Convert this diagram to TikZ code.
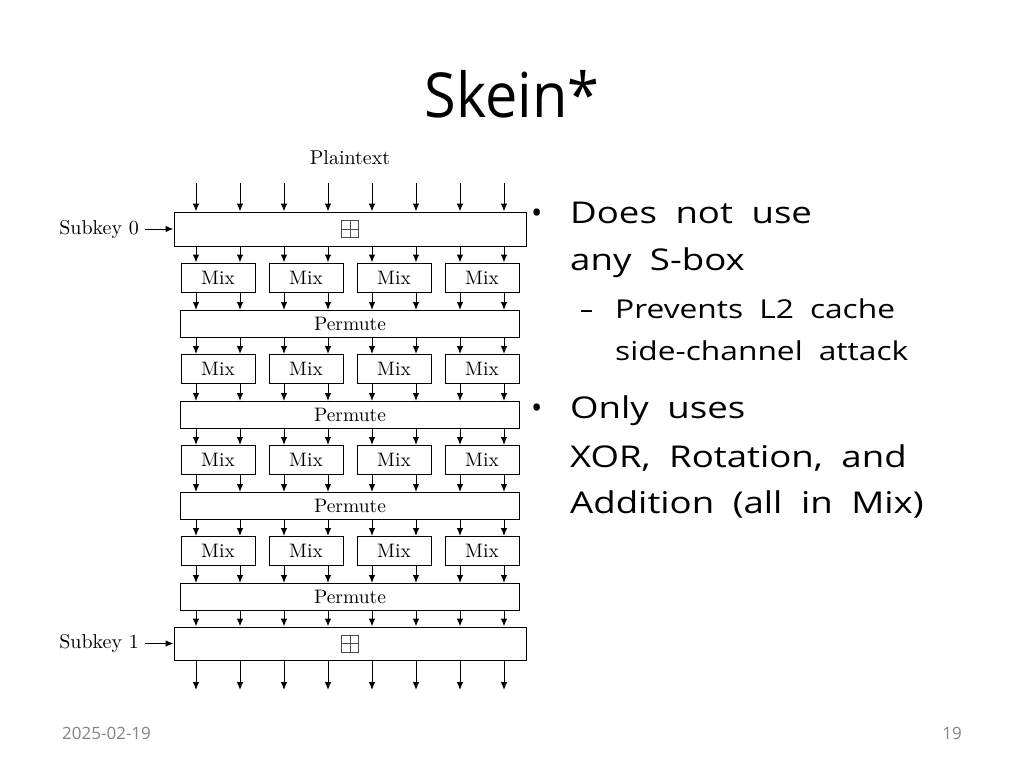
\documentclass[tikz,border=0pt]{standalone}
\usepackage{fontspec}
\newfontfamily\titlefont[FakeStretch=0.93]{Open Sans}
\newfontfamily\slidefont{Open Sans}
\newfontfamily\bulfont[FakeStretch=1.22,WordSpace=1.95]{Open Sans}
\newfontfamily\cmfont{lmroman10-regular.otf}
\usetikzlibrary{arrows.meta}
\begin{document}
\begin{tikzpicture}[x=1pt,y=-1pt,
  box/.style={draw,line width=1pt,inner sep=0pt,font=\cmfont\fontsize{19.5}{19.5}\selectfont},
  mixbox/.style={box,minimum width=74pt,minimum height=29pt},
  permbox/.style={box,minimum width=339pt,minimum height=27pt},
  keybox/.style={box,minimum width=352pt,minimum height=34pt},
  arr/.style={-{Latex[length=8pt,width=6.5pt]},line width=1pt},
  lbl/.style={font=\cmfont\fontsize{20}{20}\selectfont,inner sep=0pt},
  bplus/.style={draw=black!70,line width=1pt,minimum size=17pt,inner sep=0pt},
  bigtxt/.style={font=\bulfont\fontsize{30}{30}\selectfont,anchor=base west,inner sep=0pt},
  subtxt/.style={font=\bulfont\fontsize{26}{26}\selectfont,anchor=base west,inner sep=0pt},
  foot/.style={font=\slidefont\fontsize{17}{17}\selectfont,text=black!48,inner sep=0pt}
]
\useasboundingbox[fill=white] (0,0) rectangle (1024,768);

% title
\node[font=\titlefont\fontsize{62}{62}\selectfont,anchor=base,inner sep=0pt] (title) at (512,117) {Skein*};

% diagram
\node[lbl] (pt) at (350,158) {Plaintext};
\node[keybox] (k0) at (350,229) {};
\node[bplus] (bp0) at (k0.center) {};
\draw[draw=black!70,line width=1pt] (bp0.north) -- (bp0.south) (bp0.west) -- (bp0.east);
\node[keybox,minimum height=33pt] (k1) at (350,643.5) {};
\node[bplus] (bp1) at (k1.center) {};
\draw[draw=black!70,line width=1pt] (bp1.north) -- (bp1.south) (bp1.west) -- (bp1.east);

\node[lbl,anchor=east] (s0) at (139,229) {Subkey 0};
\node[lbl,anchor=east] (s1) at (139,643.5) {Subkey 1};
\draw[arr] ([xshift=6pt]s0.east) -- (k0.west);
\draw[arr] ([xshift=6pt]s1.east) -- (k1.west);

\foreach \r/\my/\py in {1/277.5/324,2/369/415,3/460/506,4/551/597}{
  \foreach \k/\mx in {1/218,2/306,3/394,4/482}
    \node[mixbox] (m\r\k) at (\mx,\my) {Mix};
  \node[permbox] (p\r) at (350,\py) {Permute};
}

\foreach \i in {1,...,8}{
  \coordinate (c\i) at ({196+44*(\i-1)},183);
  \coordinate (b\i) at ({196+44*(\i-1)},690);
}

\foreach \i/\k in {1/1,2/1,3/2,4/2,5/3,6/3,7/4,8/4}{
  \draw[arr] (c\i) -- (k0.north -| c\i);
  \draw[arr] (k0.south -| c\i) -- (m1\k.north -| c\i);
  \foreach \r in {1,2,3,4}
    \draw[arr] (m\r\k.south -| c\i) -- (p\r.north -| c\i);
  \foreach \r/\s in {1/2,2/3,3/4}
    \draw[arr] (p\r.south -| c\i) -- (m\s\k.north -| c\i);
  \draw[arr] (p4.south -| c\i) -- (k1.north -| c\i);
  \draw[arr] (k1.south -| c\i) -- (b\i);
}

% bullets
\node[font=\slidefont\fontsize{30}{30}\selectfont,anchor=base west,inner sep=0pt] (d1) at (531,223) {•};
\node[bigtxt] (l1) at (570,223) {Does not use};
\node[bigtxt] (l2) at (570,270) {any S-box};
\node[font=\slidefont\fontsize{26}{26}\selectfont,anchor=base west,inner sep=0pt] (d2) at (580,318) {–};
\node[subtxt] (l3) at (615,318) {Prevents L2 cache};
\node[subtxt] (l4) at (615,360) {side-channel attack};
\node[font=\slidefont\fontsize{30}{30}\selectfont,anchor=base west,inner sep=0pt] (d3) at (531,418) {•};
\node[bigtxt] (l5) at (570,418) {Only uses};
\node[bigtxt] (l6) at (570,467) {XOR, Rotation, and};
\node[bigtxt] (l7) at (570,513) {Addition (all in Mix)};

% footer
\node[foot,anchor=west] (date) at (62,733) {2025-02-19};
\node[foot,anchor=east] (pg) at (962,733) {19};
\end{tikzpicture}
\end{document}
